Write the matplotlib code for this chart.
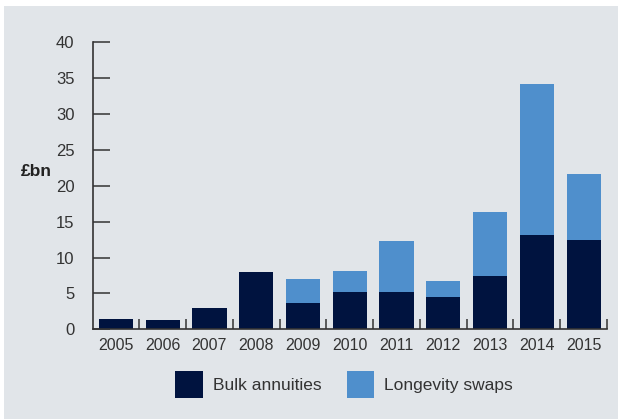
import matplotlib
matplotlib.use("Agg")
import matplotlib.pyplot as plt
from matplotlib.patches import Rectangle
import numpy as np

years = ["2005", "2006", "2007", "2008", "2009", "2010", "2011", "2012", "2013", "2014", "2015"]
bulk_annuities = [1.5, 1.35, 2.9, 8.05, 3.7, 5.2, 5.2, 4.5, 7.4, 13.1, 12.4]
longevity_swaps = [0.0, 0.0, 0.0, 0.0, 3.3, 2.9, 7.1, 2.2, 8.9, 21.15, 9.3]
y_ticks = [0, 5, 10, 15, 20, 25, 30, 35, 40]

W, H = 622, 419
fig = plt.figure(figsize=(W / 100, H / 100), dpi=100, facecolor="white")
bg = "#e1e5e9"
fig.patches.append(Rectangle((4 / W, 0), (618 - 4) / W, (H - 6) / H,
                             transform=fig.transFigure, facecolor=bg,
                             edgecolor="none", zorder=-10))

ax = fig.add_axes([92.5 / W, (H - 329.3) / H, (607 - 92.5) / W, (329.3 - 42.3) / H])
ax.set_facecolor("none")
ax.set_zorder(2)

x = np.arange(len(years))
dark = "#00133f"
blue = "#4f8fcc"
ax.bar(x, bulk_annuities, width=0.73, color=dark, label="Bulk annuities", zorder=2)
ax.bar(x, longevity_swaps, width=0.73, bottom=bulk_annuities, color=blue,
       label="Longevity swaps", zorder=2)

ax.set_xlim(-0.5, len(years) - 0.5)
ax.set_ylim(0, 40)
for s in ["top", "right"]:
    ax.spines[s].set_visible(False)
for s in ["left", "bottom"]:
    ax.spines[s].set_color("#333333")
    ax.spines[s].set_linewidth(1.2)
    ax.spines[s].set_zorder(3)

font = "Liberation Sans"
txt = "#333333"
ax.set_yticks(y_ticks)
ax.set_yticklabels([str(v) for v in y_ticks], fontsize=12, color=txt, family=font)
ax.tick_params(axis="y", direction="in", length=12, width=1.1, color="#333333", pad=13)

ax.set_xticks(x)
ax.set_xticklabels(years, fontsize=11.5, color=txt, family=font)
ax.tick_params(axis="x", which="major", length=0, pad=6)
ax.set_xticks(np.arange(0.5, len(years), 1.0), minor=True)
ax.tick_params(axis="x", which="minor", direction="in", length=7, width=1.1, color="#333333")

fig.text(21 / W, (H - 171) / H, "£bn", fontsize=12.5, fontweight="bold",
         color="#222222", family=font, va="center", ha="left", zorder=5)

leg = fig.legend(loc="center", bbox_to_anchor=(344 / W, (H - 384.5) / H), ncol=2,
                 frameon=False, handlelength=1.6, handleheight=1.95,
                 handletextpad=0.55, columnspacing=1.45, prop={"family": font, "size": 12.5})
leg.set_zorder(5)
for t in leg.get_texts():
    t.set_color(txt)

fig.savefig("out.png", dpi=100, facecolor="white")
